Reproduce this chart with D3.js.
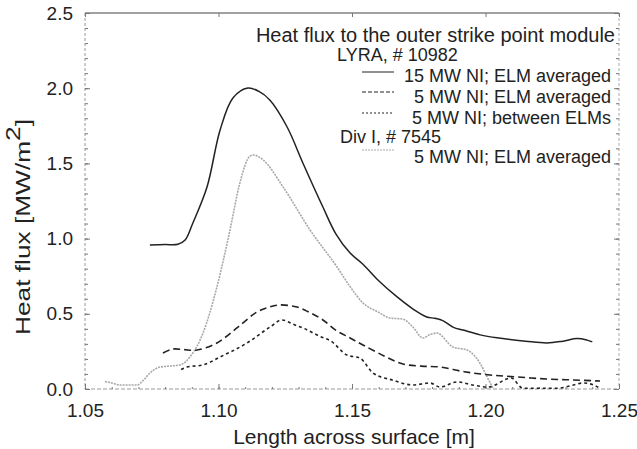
<!DOCTYPE html>
<html>
<head>
<meta charset="utf-8">
<script src="https://cdn.jsdelivr.net/npm/d3@7"></script>
<style>
  body { margin: 0; background: #fff; }
  svg { display: block; font-family: "Liberation Sans", Arial, sans-serif; }
</style>
</head>
<body>
<svg id="chart" width="637" height="449"></svg>
<script>
// ELM averaged, 15 MW NI (LYRA #10982)
const solid15 = [
  [1.0743,0.957],[1.0800,0.960],[1.0848,0.962],[1.0875,0.990],[1.0904,1.104],
  [1.0957,1.343],[1.1006,1.722],[1.1054,1.935],
  [1.1110,2.001],[1.1150,1.98],[1.1193,1.92],[1.1257,1.742],[1.1316,1.503],[1.1391,1.21],
  [1.1440,1.03],[1.1493,0.904],[1.1541,0.830],[1.1600,0.72],[1.1669,0.612],[1.1730,0.53],
  [1.1780,0.479],[1.1810,0.470],[1.1840,0.455],[1.1880,0.41],[1.1916,0.392],[1.1980,0.36],
  [1.2043,0.340],[1.2150,0.318],[1.2230,0.306],[1.2290,0.318],[1.2343,0.335],[1.2380,0.325],
  [1.2400,0.313]
];
// ELM averaged, 5 MW NI (LYRA #10982)
const dashed5 = [
  [1.0792,0.239],[1.0830,0.266],[1.0870,0.262],[1.0920,0.259],[1.0994,0.306],[1.1069,0.406],
  [1.1144,0.512],[1.1190,0.545],[1.1230,0.559],[1.1294,0.545],[1.1340,0.51],[1.1391,0.459],
  [1.1440,0.39],[1.1493,0.339],[1.1541,0.293],[1.1620,0.22],[1.1691,0.166],[1.1760,0.152],
  [1.1830,0.146],[1.1920,0.115],[1.2017,0.093],[1.2120,0.08],[1.2230,0.066],[1.2330,0.06],
  [1.2429,0.053]
];
// between ELMs, 5 MW NI (LYRA #10982)
const dotted5 = [
  [1.0860,0.13],[1.0882,0.146],[1.0942,0.16],[1.1006,0.213],[1.1107,0.306],[1.1193,0.412],
  [1.1238,0.459],[1.1280,0.43],[1.1316,0.406],[1.1380,0.35],[1.1420,0.32],[1.1481,0.226],
  [1.1530,0.205],[1.1579,0.106],[1.1650,0.06],[1.1728,0.027],[1.1792,0.04],[1.1830,0.013],
  [1.1893,0.047],[1.1950,0.027],[1.2010,0.013],[1.2096,0.073],[1.2140,0.005],[1.2200,0.005],
  [1.2268,0.005],[1.2330,0.027],[1.2365,0.04],[1.2400,0.03],[1.2429,0.005]
];
// ELM averaged, 5 MW NI (Div I #7545)
const divI5 = [
  [1.0575,0.05],[1.0600,0.04],[1.0631,0.027],[1.0695,0.027],[1.0720,0.06],[1.0743,0.106],
  [1.0781,0.146],[1.0820,0.153],[1.0856,0.16],[1.0893,0.213],[1.0942,0.372],[1.0994,0.678],
  [1.1043,1.057],[1.1080,1.37],[1.1118,1.549],[1.1130,1.556],[1.1167,1.523],[1.1242,1.343],
  [1.1343,1.057],[1.1444,0.811],[1.1493,0.68],[1.1541,0.572],[1.1600,0.51],[1.1642,0.472],
  [1.1690,0.465],[1.1728,0.412],[1.1766,0.339],[1.1790,0.36],[1.1818,0.372],[1.1878,0.279],
  [1.1931,0.259],[1.1979,0.173],[1.2006,0.08],[1.2028,0.007]
];

const xTicks = [1.05, 1.10, 1.15, 1.20, 1.25];
const yTicks = [0, 0.5, 1.0, 1.5, 2.0, 2.5];

const margin = {top: 13, right: 18, bottom: 60, left: 85};
const width = 637 - margin.left - margin.right;
const height = 449 - margin.top - margin.bottom;

const svg = d3.select("#chart");
const g = svg.append("g").attr("transform", `translate(${margin.left},${margin.top})`);

const x = d3.scaleLinear().domain([1.05, 1.25]).range([0, width]);
const y = d3.scaleLinear().domain([0, 2.5]).range([height, 0]);

// frame
const frame = [
  {x1: 0, y1: 0, x2: width, y2: 0, c: "#444", d: null},
  {x1: 0, y1: 0, x2: 0, y2: height, c: "#999", d: "3,2"},
  {x1: width, y1: 0, x2: width, y2: height, c: "#aaa", d: "3,2"},
  {x1: 0, y1: height, x2: width, y2: height, c: "#999", d: "4,2"}
];
g.selectAll(".frame").data(frame).join("line")
  .attr("x1", d => d.x1).attr("y1", d => d.y1).attr("x2", d => d.x2).attr("y2", d => d.y2)
  .attr("stroke", d => d.c).attr("stroke-width", 1).attr("stroke-dasharray", d => d.d);

function styleAxis(sel) {
  sel.select(".domain").remove();
  sel.selectAll(".tick line").attr("stroke", "#777");
  sel.selectAll(".tick text").attr("fill", "#222").style("font-size", "19px")
    .style("font-family", "Liberation Sans, Arial, sans-serif");
}

// y axis, left: majors + minors
g.append("g")
  .call(d3.axisLeft(y).tickValues(d3.range(0, 2.51, 0.1)).tickSize(-3).tickFormat(""))
  .call(styleAxis);
g.append("g")
  .call(d3.axisLeft(y).tickValues(yTicks).tickSize(-5).tickPadding(12).tickFormat(d3.format(".1f")))
  .call(styleAxis);
// right axis ticks
g.append("g").attr("transform", `translate(${width},0)`)
  .call(d3.axisRight(y).tickValues(d3.range(0, 2.51, 0.1)).tickSize(-3).tickFormat(""))
  .call(styleAxis);
g.append("g").attr("transform", `translate(${width},0)`)
  .call(d3.axisRight(y).tickValues(yTicks).tickSize(-5).tickFormat(""))
  .call(styleAxis);

// x axis, bottom
g.append("g").attr("transform", `translate(0,${height})`)
  .call(d3.axisBottom(x).tickValues(d3.range(1.05, 1.2501, 0.01)).tickSize(-2).tickFormat(""))
  .call(styleAxis);
g.append("g").attr("transform", `translate(0,${height})`)
  .call(d3.axisBottom(x).tickValues(xTicks).tickSize(-5).tickPadding(15).tickFormat(d3.format(".2f")))
  .call(styleAxis);
// top ticks
g.append("g")
  .call(d3.axisTop(x).tickValues(xTicks).tickSize(-4).tickFormat(""))
  .call(styleAxis);

// axis titles
g.append("text")
  .attr("x", 354 - margin.left).attr("y", 444 - margin.top)
  .attr("text-anchor", "middle").attr("fill", "#222").style("font-size", "21px")
  .text("Length across surface [m]");

const yt = svg.append("text")
  .attr("transform", "translate(30,227) rotate(-90)")
  .attr("text-anchor", "middle").attr("fill", "#222").style("font-size", "21px")
  .attr("textLength", 216).attr("lengthAdjust", "spacingAndGlyphs");
yt.append("tspan").text("Heat flux [MW/m");
yt.append("tspan").attr("dy", -10).text("2");
yt.append("tspan").attr("dy", 10).text("]");

// curves
const smooth = d3.line().x(d => x(d[0])).y(d => y(d[1])).curve(d3.curveCatmullRom.alpha(0.5));
const rough = d3.line().x(d => x(d[0])).y(d => y(d[1])).curve(d3.curveMonotoneX);

const series = [
  {data: divI5, stroke: "#a8a8a8", w: 1.6, dash: "2,1", gen: rough, key: "2,1"},
  {data: dotted5, stroke: "#222", w: 1.6, dash: "3,3", gen: rough, key: "2,2"},
  {data: dashed5, stroke: "#222", w: 1.6, dash: "7,4", gen: smooth, key: "4,2"},
  {data: solid15, stroke: "#222", w: 1.5, dash: null, gen: smooth, key: null}
];
g.selectAll(".curve").data(series).join("path")
  .attr("class", "curve")
  .attr("d", d => d.gen(d.data))
  .attr("fill", "none")
  .attr("stroke", d => d.stroke)
  .attr("stroke-width", d => d.w)
  .attr("stroke-dasharray", d => d.dash);

// legend
const legendTitle = [
  {t: "Heat flux to the outer strike point module", x: 615, y: 42, a: "end", s: 20},
  {t: "LYRA, # 10982", x: 337, y: 61, a: "start", s: 18},
  {t: "Div I, # 7545", x: 340, y: 143, a: "start", s: 18}
];
svg.selectAll(".lt").data(legendTitle).join("text")
  .attr("x", d => d.x).attr("y", d => d.y).attr("text-anchor", d => d.a)
  .attr("fill", "#222").style("font-size", d => d.s + "px").text(d => d.t);

const legendItems = [
  {t: "15 MW NI; ELM averaged", y: 82, ly: 72, s: series[3]},
  {t: "5 MW NI; ELM averaged", y: 103, ly: 92, s: series[2]},
  {t: "5 MW NI; between ELMs", y: 124, ly: 113, s: series[1]},
  {t: "5 MW NI; ELM averaged", y: 163, ly: 150, s: series[0]}
];
const li = svg.selectAll(".li").data(legendItems).join("g");
li.append("line")
  .attr("x1", 362).attr("x2", 394).attr("y1", d => d.ly).attr("y2", d => d.ly)
  .attr("stroke", d => d.s.stroke).attr("stroke-width", 1)
  .attr("stroke-dasharray", d => d.s.key);
li.append("text")
  .attr("x", 611).attr("y", d => d.y).attr("text-anchor", "end")
  .attr("fill", "#222").style("font-size", "18px").text(d => d.t);
</script>
</body>
</html>
